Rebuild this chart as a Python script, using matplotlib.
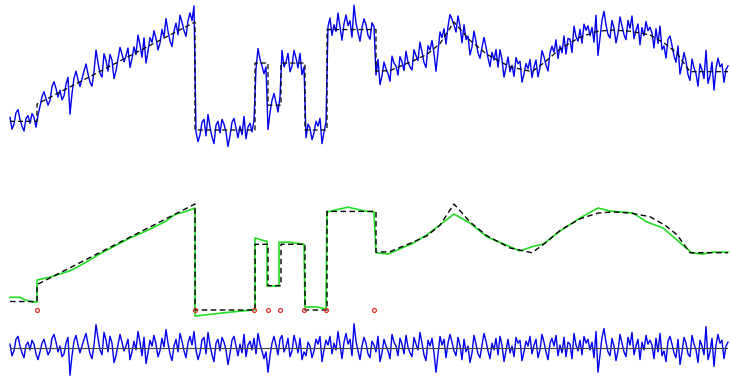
import numpy as np
import matplotlib
matplotlib.use("Agg")
import matplotlib.pyplot as plt

# ---- data -------------------------------------------------------------
# underlying piecewise signal (sample index, value)
clean_t = [0, 13.5, 13.5, 92.5, 92.5, 122.5, 122.5, 129, 129, 135.5, 135.5,
           147.5, 147.5, 158.5, 158.5, 183, 183, 190, 201.5, 208.5, 215, 222,
           230, 238.5, 250, 261, 267.5, 275, 285, 294, 301.5, 310, 320, 327.5,
           333.5, 340, 359]
clean_v = [0.08, 0.08, 0.24, 1.0, 0.0, 0.0, 0.62, 0.62, 0.23, 0.23, 0.62,
           0.62, 0.0, 0.0, 0.93, 0.93, 0.545, 0.55, 0.64, 0.70, 0.80, 1.0,
           0.83, 0.70, 0.585, 0.54, 0.63, 0.75, 0.86, 0.915, 0.925, 0.915, 0.88,
           0.80, 0.71, 0.54, 0.54]

# estimated (green) signal
fit_t = [0, 5, 7.5, 11.5, 13.5, 13.5, 20, 25, 30, 37, 45, 52, 60, 68, 77.5,
         82.5, 88, 92.5, 92.5, 110, 121.5, 122.5, 122.5, 127.5, 128.5, 128.5,
         134.5, 134.5, 140, 147, 147.5, 153, 158, 158.5, 169, 177, 182, 183,
         189, 201.5, 208.5, 222, 230, 238.5, 255, 261.5, 266.5, 275, 285, 294,
         300, 311.5, 318.5, 326.5, 333.5, 341, 346.5, 351.5, 359]
fit_v = [0.12, 0.12, 0.095, 0.075, 0.075, 0.283, 0.31, 0.34, 0.37, 0.44,
         0.53, 0.60, 0.68, 0.745, 0.833, 0.90, 0.93, 0.962, -0.057, -0.02,
         0.0, 0.0, 0.68, 0.65, 0.65, 0.226, 0.226, 0.64, 0.64, 0.62, 0.028,
         0.03, 0.01, 0.925, 0.97, 0.935, 0.925, 0.54, 0.528, 0.63, 0.71, 0.905,
         0.82, 0.69, 0.557, 0.60, 0.62, 0.745, 0.868, 0.962, 0.934, 0.915,
         0.83, 0.774, 0.66, 0.538, 0.528, 0.547, 0.547]

# detected change points
change_t = [13.5, 92.5, 122, 129, 135, 147, 158, 182]
change_v = [0, 0, 0, 0, 0, 0, 0, 0]

# noise (hundredths)
noise = [
    4, -8, -3, 9, 12, 2, -5, -10, 3, 6, -2, 8, 4, -6, -12, -4, 5, 9, 1, -7,
    -3, 10, 14, 6, -4, 2, -9, -6, 5, 11, -28, -8, 7, 13, 3, -5, 2, 9, 15, 4,
    -6, -11, 3, 24, 10, -2, -7, 16, 8, -4, 12, 5, -15, -8, 3, 14, 6, -3, 2, 9,
    -12, -4, 7, -2, 17, 6, -8, 11, -16, -5, 8, 2, 13, 4, -9, -3, 10, 1, 19, 5,
    -6, -13, 2, 9, -4, 15, 7, -3, -10, 5, 12, 3, 17, -2, -12, -5, 8, 11, -6, 16,
    3, -7, -14, 5, 9, -3, 11, 6, -2, -17, -6, 8, 12, 2, -8, 4, -5, 14, -9, 3,
    7, -2, 10, -6, 15, 4, -3, -11, -4, -25, -8, 5, 12, 3, -7, 9, 13, -4, 1, 10,
    -9, -3, 13, 5, -5, 10, -12, -4, -8, 6, 2, -10, -3, 9, 4, 12, -14, -2, 8, 3,
    12, -6, 5, -2, 17, 3, -11, 6, 15, 4, 9, -8, 25, 7, -3, -12, 2, 11, 5, -6,
    -10, 7, 3, -4, 12, -14, -5, 9, 2, -3, -11, 14, 6, 2, -8, 10, 4, -6, 13, 1,
    -5, -9, 11, 4, -2, 16, 5, -7, -13, 8, 2, 10, -5, -25, -6, 12, 3, 9, -10, 5,
    14, 6, -3, -8, 11, 3, -12, 9, -4, 2, -15, -5, 13, 4, -6, -10, 3, 15, 7, -3,
    -11, 5, -2, 10, -7, 12, 3, -14, -3, 9, -5, 2, -9, 11, 5, 8, -13, -4, 7, 2,
    12, -6, 3, 9, -10, -2, 14, 6, -4, -12, 5, 10, 2, 13, -8, 3, -5, 11, -9, 6,
    4, -11, 15, 3, -3, 8, -7, 12, 5, 9, -2, 6, -10, 17, -25, -7, 11, 20, 6, -4,
    -8, 10, 2, -13, -3, 14, 5, -4, -9, 11, 3, 16, -7, 2, 9, -12, 6, -2, 13, 4,
    8, 3, -11, 10, -4, 15, -8, -3, -14, 7, 12, 4, -5, -10, 9, -17, -4, 11, 5, -6,
    -9, 13, 4, -2, -15, 8, 2, -7, 22, -12, -4, 10, -19, 3, 14, 5, 8, -11, 2, 6,
]

# ---- derived ----------------------------------------------------------
t = np.arange(len(noise))
noise_v = np.array(noise) * 0.009
noisy = np.interp(t, clean_t, clean_v) + noise_v

W, H = 731, 376
fig = plt.figure(figsize=(W / 100, H / 100), dpi=100)

def add_axes(py0, py1):
    ax = fig.add_axes([10 / W, 1 - py1 / H, 718 / W, (py1 - py0) / H])
    ax.set_axis_off()
    ax.set_xlim(0, len(noise) - 1)
    ax.patch.set_alpha(0)
    return ax

blue = "#0000ee"
dash = (0, (4, 2.5))

ax1 = add_axes(0, 150)
ax1.set_ylim((130 - 150) / 108, 130 / 108)
ax1.plot(t, noisy, color=blue, lw=1.0, clip_on=False)
ax1.plot(clean_t, clean_v, color="black", lw=0.9, ls=dash, clip_on=False)

ax2 = add_axes(180, 330)
ax2.set_ylim((310 - 330) / 106, (310 - 180) / 106)
ax2.plot(fit_t, fit_v, color="#22dd22", lw=1.2, clip_on=False)
ax2.plot(clean_t, clean_v, color="black", lw=1.0, ls=dash, clip_on=False)
ax2.plot(change_t, change_v, ls="none", marker="o", ms=2.8, mfc="none",
         mec="#e03030", mew=0.9, clip_on=False)

ax3 = add_axes(320, 376)
ax3.set_ylim(-28 / 108, 28 / 108)
ax3.plot(t, noise_v, color=blue, lw=1.0, clip_on=False)
ax3.plot([0, len(noise) - 1], [0, 0], color="#444444", lw=0.8)

fig.savefig("out.png", dpi=100)
